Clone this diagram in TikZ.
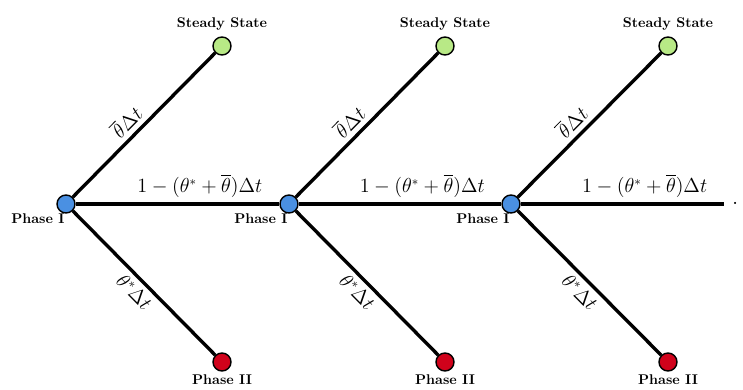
\documentclass[tikz,border=0pt]{standalone}
\usepackage{amsmath,amssymb}
\usetikzlibrary{positioning}
\definecolor{phaseone}{RGB}{74,144,226}
\definecolor{steady}{RGB}{184,233,134}
\definecolor{phasetwo}{RGB}{208,2,27}

\begin{document}
\begin{tikzpicture}[every node/.style={font=\fontsize{13.5}{16}\selectfont}, st/.style={draw, circle, line width=1pt, minimum size=0.45cm, inner sep=0pt}, edge/.style={line width=2.4pt}, lbl/.style={font=\fontsize{10}{12}\selectfont\bfseries, inner sep=2pt}]
	\useasboundingbox (0,0) rectangle (18.575,9.75);
	\node[st, fill=phaseone] (P1) at (1.65,4.65) {};
	\node[st, fill=phaseone] (P2) at (7.225,4.65) {};
	\node[st, fill=phaseone] (P3) at (12.775,4.65) {};
	\node[st, fill=steady] (S1) at (5.55,8.6) {};
	\node[st, fill=steady] (S2) at (11.125,8.6) {};
	\node[st, fill=steady] (S3) at (16.7,8.6) {};
	\node[st, fill=phasetwo] (Q1) at (5.55,0.7) {};
	\node[st, fill=phasetwo] (Q2) at (11.125,0.7) {};
	\node[st, fill=phasetwo] (Q3) at (16.7,0.7) {};
	\coordinate (end) at (18.1,4.65);
	\node[anchor=west, inner sep=0pt] (dots) at (18.3,4.65) {$\cdots$};
	% labels
	\node[lbl, below left=0pt and -6pt of P1] (P1l) {Phase I};
	\node[lbl, below left=0pt and -6pt of P2] (P2l) {Phase I};
	\node[lbl, below left=0pt and -6pt of P3] (P3l) {Phase I};
	\node[lbl, above=2pt of S1] (S1l) {Steady State};
	\node[lbl, above=2pt of S2] (S2l) {Steady State};
	\node[lbl, above=2pt of S3] (S3l) {Steady State};
	\node[lbl, below=0pt of Q1] (Q1l) {Phase II};
	\node[lbl, below=0pt of Q2] (Q2l) {Phase II};
	\node[lbl, below=0pt of Q3] (Q3l) {Phase II};
	% branches
	\draw[edge] (P1) -- (S1) node[pos=0.45, above, sloped] {$\overline{\theta}\Delta t$};
	\draw[edge] (P1) -- (P2) node[pos=0.61, above] {$1-(\theta^{*}+\overline{\theta})\Delta t$};
	\draw[edge] (P1) -- (Q1) node[pos=0.5, below, sloped] {$\theta^{*}\Delta t$};
	\draw[edge] (P2) -- (S2) node[pos=0.45, above, sloped] {$\overline{\theta}\Delta t$};
	\draw[edge] (P2) -- (P3) node[pos=0.61, above] {$1-(\theta^{*}+\overline{\theta})\Delta t$};
	\draw[edge] (P2) -- (Q2) node[pos=0.5, below, sloped] {$\theta^{*}\Delta t$};
	\draw[edge] (P3) -- (S3) node[pos=0.45, above, sloped] {$\overline{\theta}\Delta t$};
	\draw[edge] (P3) -- (end) node[pos=0.61, above] {$1-(\theta^{*}+\overline{\theta})\Delta t$};
	\draw[edge] (P3) -- (Q3) node[pos=0.5, below, sloped] {$\theta^{*}\Delta t$};
\end{tikzpicture}
\end{document}
